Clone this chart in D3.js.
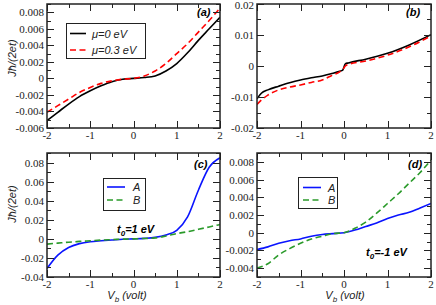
<!DOCTYPE html>
<html>
<head>
<meta charset="utf-8">
<script src="https://cdn.jsdelivr.net/npm/d3@7"></script>
<style>
  body { margin: 0; background: #fff; }
  svg { display: block; }
  .tick-label { font-family: "Liberation Serif", "Times New Roman", serif; font-size: 11px; fill: #222; }
  .ital { font-family: "Liberation Sans", Arial, sans-serif; font-style: italic; font-size: 11px; fill: #222; }
</style>
</head>
<body>
<svg></svg>
<script>
const WIDTH = 436;
const HEIGHT = 305;

// bias voltage grid (volt)
const vb = [-2, -1.75, -1.5, -1.25, -1, -0.75, -0.5, -0.25, 0, 0.25, 0.5, 0.75, 1, 1.25, 1.5, 1.75, 2];

// panel (a)
const aMu0 = [-0.0051, -0.0041, -0.0031, -0.0022, -0.0015, -0.0009, -0.0004, -0.0001, 0, 0.0001, 0.0003, 0.0009, 0.0018, 0.0031, 0.0046, 0.0060, 0.0074];
const aMu3 = [-0.0041, -0.0033, -0.0025, -0.0017, -0.0011, -0.0006, -0.0003, -0.0001, 0, 0.0003, 0.0009, 0.0018, 0.0030, 0.0042, 0.0056, 0.0070, 0.0085];

// panel (b), with a finer grid around the step at zero
const vbB = [-2, -1.9, -1.75, -1.5, -1.25, -1, -0.75, -0.5, -0.3, -0.1, -0.03, 0.03, 0.1, 0.5, 1, 1.5, 2];
const bMu0 = [-0.0106, -0.0088, -0.0077, -0.0065, -0.0054, -0.0045, -0.0038, -0.0032, -0.0025, -0.0017, -0.0013, 0.0007, 0.0010, 0.0022, 0.0041, 0.0068, 0.0101];
const bMu3 = [-0.0124, -0.0110, -0.0094, -0.0077, -0.0068, -0.0061, -0.0053, -0.0045, -0.0032, -0.0019, -0.0012, 0.0000, 0.0005, 0.0016, 0.0035, 0.0062, 0.0097];

// panel (c), t0 = 1 eV
const cA = [-0.031, -0.017, -0.009, -0.005, -0.003, -0.002, -0.0012, -0.0004, 0, 0.0005, 0.0015, 0.004, 0.009, 0.023, 0.051, 0.075, 0.085];
const cB = [-0.0055, -0.0045, -0.0035, -0.0027, -0.002, -0.0013, -0.0008, -0.0003, 0, 0.0004, 0.001, 0.003, 0.0055, 0.0075, 0.010, 0.0125, 0.015];

// panel (d), t0 = -1 eV
const dA = [-0.0019, -0.0016, -0.0012, -0.0009, -0.0007, -0.0004, -0.0002, -0.0001, 0, 0.0003, 0.0007, 0.0011, 0.0016, 0.0020, 0.0023, 0.0028, 0.0033];
const dB = [-0.0040, -0.0035, -0.0025, -0.0018, -0.0012, -0.0007, -0.0004, -0.0001, 0, 0.0005, 0.0012, 0.0022, 0.0033, 0.0044, 0.0056, 0.0068, 0.0082];

const xTicks = [-2, -1, 0, 1, 2];
const yTicksA = [-0.006, -0.004, -0.002, 0, 0.002, 0.004, 0.006, 0.008];
const yTicksB = [-0.02, -0.01, 0, 0.01, 0.02];
const yTicksC = [-0.04, -0.02, 0, 0.02, 0.04, 0.06, 0.08];
const yTicksD = [-0.004, -0.002, 0, 0.002, 0.004, 0.006, 0.008];

const yLabelsA = ["-0.006", "-0.004", "-0.002", "0", "0.002", "0.004", "0.006", "0.008"];
const yLabelsB = ["-0.02", "-0.01", "0", "0.01", "0.02"];
const yLabelsC = ["-0.04", "-0.02", "0", "0.02", "0.04", "0.06", "0.08"];
const yLabelsD = ["-0.004", "-0.002", "0", "0.002", "0.004", "0.006", "0.008"];

const legendAB = ["\u03bc=0 eV", "\u03bc=0.3 eV"];
const legendCD = ["A", "B"];

const BLACK = "#000", RED = "#ff0000", BLUE = "#0a14ff", GREEN = "#2a9a2a";

let svg = d3.select("svg")
    .attr("width", WIDTH)
    .attr("height", HEIGHT);

const panels = [
    { x0: 47, x1: 220, y0: 4, y1: 128, ydom: [-0.006, 0.009], yminor: 0.001,
      ticks: yTicksA, labels: yLabelsA, tag: "(a)", tagX: 197, tagY: 16,
      xs: [vb, vb], ys: [aMu0, aMu3], colors: [BLACK, RED] },
    { x0: 257, x1: 431, y0: 4, y1: 128, ydom: [-0.02, 0.02], yminor: 0.005,
      ticks: yTicksB, labels: yLabelsB, tag: "(b)", tagX: 406, tagY: 16,
      xs: [vbB, vbB], ys: [bMu0, bMu3], colors: [BLACK, RED] },
    { x0: 47, x1: 220, y0: 153, y1: 277, ydom: [-0.04, 0.09], yminor: 0.01,
      ticks: yTicksC, labels: yLabelsC, tag: "(c)", tagX: 194, tagY: 168,
      xs: [vb, vb], ys: [cA, cB], colors: [BLUE, GREEN] },
    { x0: 257, x1: 431, y0: 153, y1: 277, ydom: [-0.005, 0.009], yminor: 0.001,
      ticks: yTicksD, labels: yLabelsD, tag: "(d)", tagX: 408, tagY: 168,
      xs: [vb, vb], ys: [dA, dB], colors: [BLUE, GREEN] }
];

function stepRange(lo, hi, step) {
    let out = [];
    let n = Math.round((hi - lo) / step);
    for (let i = 0; i <= n; i++) out.push(lo + i * step);
    return out;
}

function drawPanel(p) {
    let g = svg.append("g");
    let x = d3.scaleLinear().domain([-2, 2]).range([p.x0, p.x1]);
    let y = d3.scaleLinear().domain(p.ydom).range([p.y1, p.y0]);

    let clipId = "clip" + p.tag.replace(/[()]/g, "");
    svg.append("clipPath").attr("id", clipId)
        .append("rect")
        .attr("x", p.x0).attr("y", p.y0)
        .attr("width", p.x1 - p.x0).attr("height", p.y1 - p.y0);

    // curves
    let line = d3.line().curve(d3.curveMonotoneX);
    p.ys.forEach((vals, i) => {
        let pts = vals.map((v, j) => [x(p.xs[i][j]), y(v)]);
        g.append("path")
            .attr("d", line(pts))
            .attr("clip-path", `url(#${clipId})`)
            .attr("fill", "none")
            .attr("stroke", p.colors[i])
            .attr("stroke-width", 1.6)
            .attr("stroke-dasharray", i === 1 ? "6,3.5" : null);
    });

    // inward ticks on all four sides
    let ticks = g.append("g").attr("stroke", "#222").attr("stroke-width", 1);
    stepRange(-2, 2, 0.5).forEach(v => {
        let major = Math.abs(v - Math.round(v)) < 1e-9;
        let len = major ? 7 : 4;
        let px = Math.round(x(v)) + 0.5;
        ticks.append("line").attr("x1", px).attr("x2", px).attr("y1", p.y1).attr("y2", p.y1 - len);
        ticks.append("line").attr("x1", px).attr("x2", px).attr("y1", p.y0).attr("y2", p.y0 + len);
    });
    stepRange(p.ydom[0], p.ydom[1], p.yminor).forEach(v => {
        let major = p.ticks.some(t => Math.abs(t - v) < p.yminor / 100);
        let len = major ? 7 : 4;
        let py = Math.round(y(v)) + 0.5;
        ticks.append("line").attr("x1", p.x0).attr("x2", p.x0 + len).attr("y1", py).attr("y2", py);
        ticks.append("line").attr("x1", p.x1).attr("x2", p.x1 - len).attr("y1", py).attr("y2", py);
    });

    // frame
    g.append("rect")
        .attr("x", p.x0).attr("y", p.y0)
        .attr("width", p.x1 - p.x0).attr("height", p.y1 - p.y0)
        .attr("fill", "none")
        .attr("stroke", "#222")
        .attr("stroke-width", 1.5);

    // tick labels
    p.ticks.forEach((t, i) => {
        g.append("text").attr("class", "tick-label")
            .attr("x", p.x0 - 3).attr("y", Math.max(y(t) + 4, 9))
            .attr("text-anchor", "end")
            .text(p.labels[i]);
    });
    xTicks.forEach(t => {
        g.append("text").attr("class", "tick-label")
            .attr("x", x(t)).attr("y", p.y1 + 11)
            .attr("text-anchor", "middle")
            .text(t);
    });

    // panel tag
    g.append("text")
        .attr("x", p.tagX).attr("y", p.tagY)
        .style("font-family", "Liberation Sans, Arial, sans-serif")
        .style("font-style", "italic")
        .style("font-weight", "bold")
        .style("font-size", "11px")
        .text(p.tag);
}

panels.forEach(drawPanel);

function drawLegend(bx, by, bw, bh, names, colors, lineX0, lineX1, textX, rowY) {
    let g = svg.append("g");
    g.append("rect")
        .attr("x", bx).attr("y", by).attr("width", bw).attr("height", bh)
        .attr("fill", "#fff").attr("stroke", "#222").attr("stroke-width", 1);
    names.forEach((n, i) => {
        g.append("line")
            .attr("x1", lineX0).attr("x2", lineX1)
            .attr("y1", rowY[i]).attr("y2", rowY[i])
            .attr("stroke", colors[i]).attr("stroke-width", 1.6)
            .attr("stroke-dasharray", i === 1 ? "6,3.5" : null);
        g.append("text").attr("class", "ital")
            .attr("x", textX).attr("y", rowY[i] + 4)
            .text(n);
    });
}

drawLegend(66.5, 23.5, 79, 35, legendAB, [BLACK, RED], 70, 86, 92, [33.5, 50]);
drawLegend(103.5, 178.5, 42, 32, legendCD, [BLUE, GREEN], 107, 125, 133, [187, 200]);
drawLegend(298.5, 177.5, 39, 31, legendCD, [BLUE, GREEN], 303, 321, 328, [187.5, 200]);

// annotations t0
function t0Label(tx, ty, val) {
    let t = svg.append("text")
        .attr("x", tx).attr("y", ty)
        .style("font-family", "Liberation Sans, Arial, sans-serif")
        .style("font-style", "italic")
        .style("font-weight", "bold")
        .style("font-size", "11px");
    t.append("tspan").text("t");
    t.append("tspan").attr("dy", 3).style("font-size", "8px").text("0");
    t.append("tspan").attr("dy", -3).text("=" + val + " eV");
}
t0Label(117, 233, "1");
t0Label(366, 256, "-1");

// axis titles
function yTitle(cx, cy) {
    svg.append("text").attr("class", "ital")
        .attr("transform", `translate(${cx},${cy}) rotate(-90)`)
        .attr("text-anchor", "middle")
        .text("J\u0127/(2et)");
}
yTitle(16, 58);
yTitle(16, 204);

function xTitle(cx, cy) {
    let t = svg.append("text").attr("class", "ital")
        .attr("x", cx).attr("y", cy)
        .attr("text-anchor", "middle");
    t.append("tspan").text("V");
    t.append("tspan").attr("dy", 3).style("font-size", "8px").text("b");
    t.append("tspan").attr("dy", -3).text(" (volt)");
}
xTitle(127, 299);
xTitle(345, 299);
</script>
</body>
</html>
